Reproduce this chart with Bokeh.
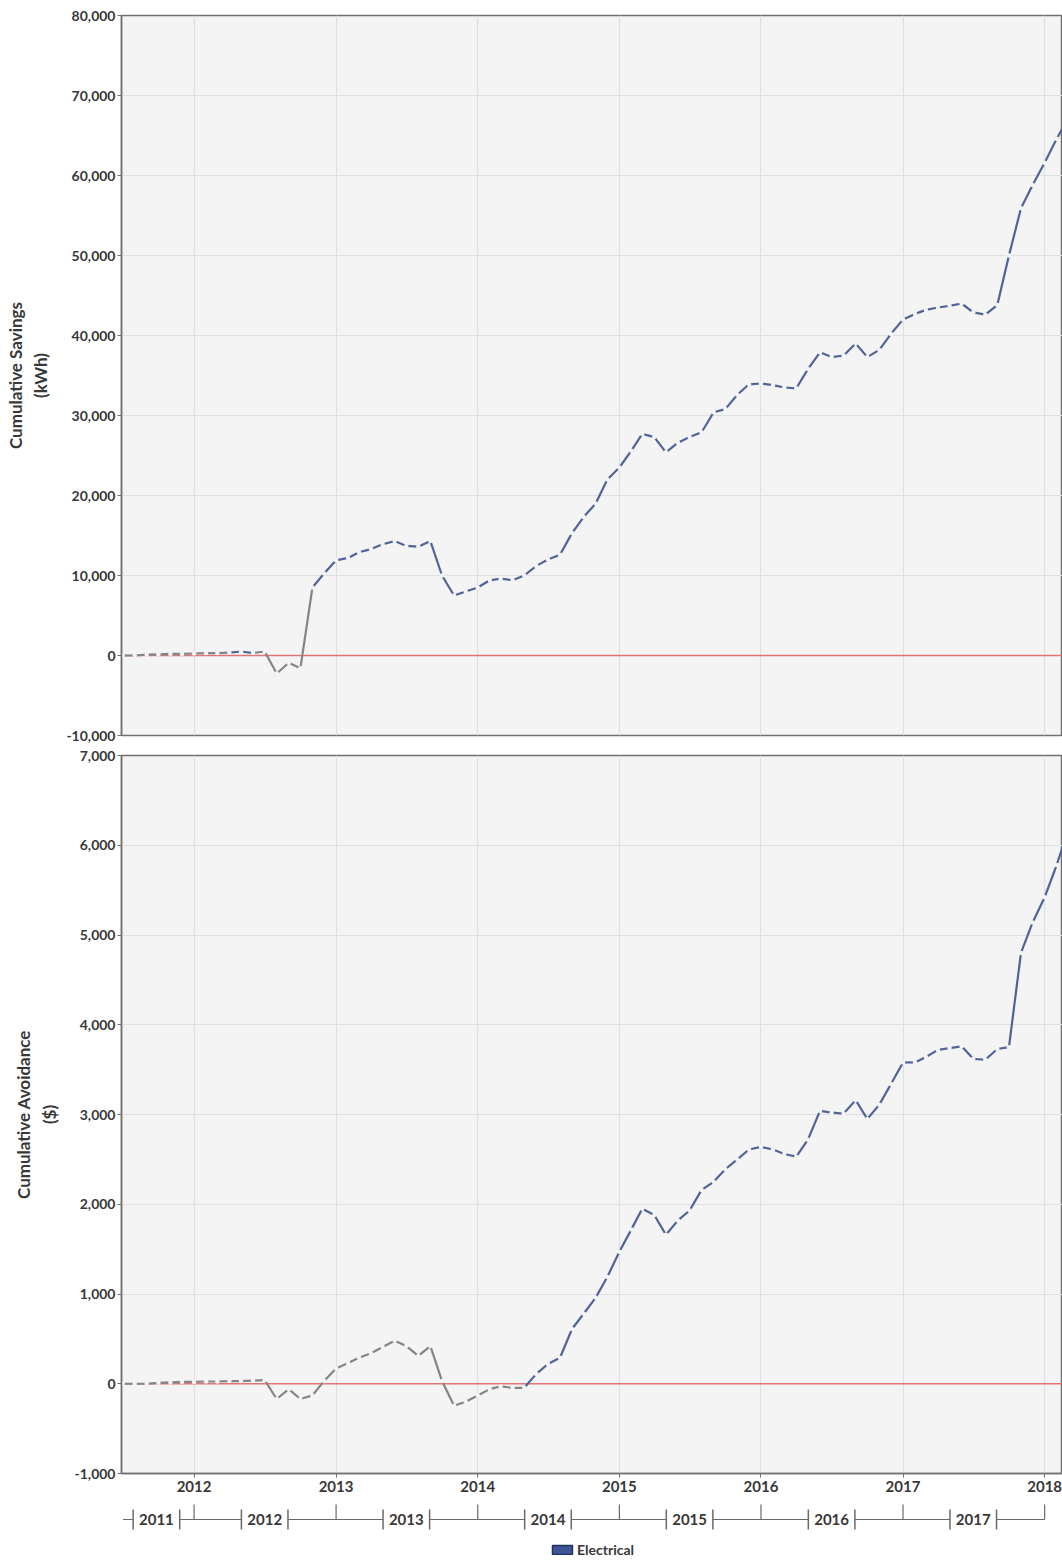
import pandas as pd
from bokeh.plotting import figure
from bokeh.models import (ColumnDataSource, Range1d, FixedTicker, NumeralTickFormatter,
                          DatetimeTickFormatter, Span, Legend, LegendItem)
from bokeh.layouts import column
from bokeh.embed import file_html
from bokeh.resources import INLINE
from bokeh.core.properties import value

# ---------------- data ----------------
months = pd.date_range("2011-07-01", periods=81, freq="MS")

savings_kwh = [
    0, 0, 100, 150, 200, 200, 250, 300, 300, 350, 500, 300, 500,
    -2250, -900, -1600, 8500, 10250, 11900, 12200, 12900, 13300, 13900, 14300, 13700, 13600, 14300,
    10000, 7500, 8000, 8500, 9400, 9600, 9400, 10000, 11200, 12000, 12600, 15300, 17300, 19000,
    22000, 23500, 25600, 27700, 27300, 25400, 26600, 27300, 27900, 30400, 30800, 32600, 33900,
    34000, 33800, 33500, 33400, 35800, 37900, 37300, 37500, 39000, 37300, 38200, 40200, 42000,
    42700, 43200, 43500, 43700, 44000, 42900, 42600, 43800, 50000, 55900, 58800, 61600, 64600, 67000,
]

avoidance_usd = [
    0, 0, 0, 10, 15, 20, 20, 25, 25, 30, 30, 35, 40,
    -170, -60, -170, -130, 30, 170, 230, 290, 340, 410, 480, 420, 310, 420,
    30, -245, -200, -130, -60, -30, -45, -45, 110, 220, 290, 610, 780, 960, 1190, 1470, 1720,
    1950, 1880, 1660, 1820, 1930, 2160, 2250, 2390, 2500, 2610, 2640, 2610, 2560, 2530, 2720,
    3040, 3020, 3010, 3160, 2950, 3110, 3340, 3580, 3580, 3640, 3720, 3740, 3760, 3620, 3610,
    3730, 3750, 4800, 5140, 5420, 5780, 6150,
]

calendar_years = [2012, 2013, 2014, 2015, 2016, 2017, 2018]
fiscal_years = ["2011", "2012", "2013", "2014", "2015", "2016", "2017"]
series_name = "Electrical"
top_label = "Cumulative Savings\n(kWh)"
bottom_label = "Cumulative Avoidance\n($)"

# ---------------- style ----------------
BLUE = "#4f6499"
GREY = "#858585"
BG = "#f4f4f4"
GRID = "#e0e0e0"
AXIS = "#707070"
TEXT = "#383838"
FONT = "Lato"
W = 1062
LEFT = 121

x_start = pd.Timestamp("2011-06-28")
x_end = pd.Timestamp("2018-02-16")
x_range = Range1d(x_start, x_end)
year_dates = [pd.Timestamp(f"{y}-01-01") for y in calendar_years]
year_ticks = [d.value // 10**6 for d in year_dates]


def seg_source(vals, grey_idx):
    n = len(vals) - 1
    colors = [GREY if i in grey_idx else BLUE for i in range(n)]
    return ColumnDataSource(dict(x0=list(months[:-1]), x1=list(months[1:]),
                                 y0=vals[:-1], y1=vals[1:], c=colors))


def panel(vals, grey_idx, ylo, yhi, step, label, height, top, bottom, show_x):
    p = figure(width=W, height=height, x_range=x_range, y_range=Range1d(ylo, yhi),
               x_axis_type="datetime", output_backend="svg", toolbar_location=None,
               min_border_left=LEFT, min_border_right=0, min_border_top=top,
               min_border_bottom=bottom, background_fill_color=BG,
               border_fill_color="white", outline_line_color=AXIS, outline_line_width=1.5)
    p.add_layout(Span(location=0, dimension="width", line_color="#e07474",
                      line_width=1.6, level="underlay"))
    p.segment("x0", "y0", "x1", "y1", color="c", line_width=2.2, source=seg_source(vals, grey_idx))
    p.scatter(list(months), vals, size=4.5, fill_color=BG, line_color=None)

    p.yaxis.ticker = FixedTicker(ticks=list(range(ylo, yhi + 1, step)))
    p.yaxis.formatter = NumeralTickFormatter(format="0,0")
    p.yaxis.axis_label = label
    p.yaxis.axis_label_text_font = FONT
    p.yaxis.axis_label_text_font_style = "bold"
    p.yaxis.axis_label_text_font_size = "17px"
    p.yaxis.axis_label_text_color = TEXT
    p.yaxis.axis_label_standoff = 12
    p.axis.major_label_text_font = FONT
    p.axis.major_label_text_font_style = "bold"
    p.axis.major_label_text_font_size = "14px"
    p.axis.major_label_text_color = TEXT
    p.axis.axis_line_color = AXIS
    p.axis.axis_line_width = 1.5
    p.axis.major_tick_line_color = AXIS
    p.axis.major_tick_out = 4
    p.axis.major_tick_in = 0
    p.axis.minor_tick_line_color = None
    p.yaxis.major_label_standoff = 2

    p.xgrid.ticker = FixedTicker(ticks=year_ticks)
    p.ygrid.ticker = FixedTicker(ticks=list(range(ylo, yhi + 1, step)))
    p.grid.grid_line_color = GRID
    p.grid.grid_line_width = 1.2

    if show_x:
        p.xaxis.ticker = FixedTicker(ticks=year_ticks)
        fmt = "%Y"
        p.xaxis.formatter = DatetimeTickFormatter(
            microseconds=fmt, milliseconds=fmt, seconds=fmt, minsec=fmt, minutes=fmt,
            hourmin=fmt, hours=fmt, days=fmt, months=fmt, years=fmt)
        p.xaxis.major_label_standoff = 3
        p.xaxis.major_label_text_font_size = "15px"
    else:
        p.xaxis.visible = False
    return p


top_grey = set(range(0, 9)) | set(range(11, 16))
bottom_grey = set(range(0, 34))

p1 = panel(savings_kwh, top_grey, -10000, 80000, 10000, top_label, 745, 15, 10, False)
p2 = panel(avoidance_usd, bottom_grey, -1000, 7000, 1000, bottom_label, 758, 10, 30, True)

# ---------------- fiscal-year row + legend ----------------
H3 = 57
p3 = figure(width=W, height=H3, x_range=x_range, y_range=Range1d(0, H3),
            x_axis_type="datetime", output_backend="svg", toolbar_location=None,
            min_border_left=LEFT, min_border_right=0, min_border_top=0, min_border_bottom=0,
            outline_line_color=None, background_fill_color="white", border_fill_color="white")
p3.axis.visible = False
p3.grid.visible = False

half = pd.Timedelta(days=60)
centers = [x_start + pd.Timedelta(days=90)] + [pd.Timestamp(f"{y}-07-01") for y in fiscal_years[1:]]
y_line, y_lo, y_hi, y_tick = 41, 31, 51, 56
LC = "#6a6a6a"

# brackets around each fiscal-year label
bx = [c - half for c in centers] + [c + half for c in centers]
p3.segment(x0=bx, y0=[y_lo] * len(bx), x1=bx, y1=[y_hi] * len(bx), line_color=LC, line_width=1.5)
# connecting lines
hx0 = [x_start + pd.Timedelta(days=4)] + [c + half for c in centers]
hx1 = [centers[0] - half] + [c - half for c in centers[1:]] + [year_dates[-1]]
p3.segment(x0=hx0, y0=[y_line] * len(hx0), x1=hx1, y1=[y_line] * len(hx1), line_color=LC, line_width=1.2)
# calendar-year ticks
p3.segment(x0=year_dates, y0=[y_line] * len(year_dates), x1=year_dates,
           y1=[y_tick] * len(year_dates), line_color=LC, line_width=1.2)
p3.text(x=centers, y=[y_line] * len(centers), text=fiscal_years, text_align="center",
        text_baseline="middle", text_font=value(FONT), text_font_style="bold",
        text_font_size="15px", text_color=TEXT)

# legend swatch renderer (its single point lies below the visible range)
swatch = p3.rect(x=[months[0]], y=[-100], width=1, height=1,
                 fill_color="#3d5595", line_color="#22325e", line_width=1.5)
legend = Legend(items=[LegendItem(label=series_name, renderers=[swatch])],
                location="bottom_center", orientation="horizontal",
                glyph_width=25, glyph_height=11, label_standoff=3,
                label_text_font=FONT, label_text_font_style="bold",
                label_text_font_size="14px", label_text_color=TEXT,
                border_line_color=None, background_fill_alpha=0, padding=2, margin=2)
p3.add_layout(legend, "center")

layout = column(p1, p2, p3, spacing=0)
open("out.html", "w").write(file_html(layout, INLINE))
